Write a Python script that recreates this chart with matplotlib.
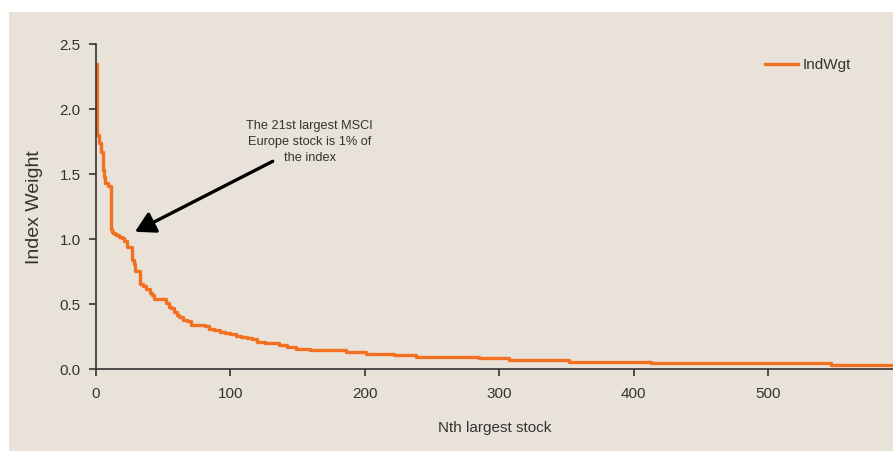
import matplotlib.pyplot as plt
from matplotlib.patches import Rectangle

# rank where the index weight steps to a new level, and that level (%)
rank_steps = [0, 1, 2, 4, 5, 6, 7, 9, 11, 12, 13, 14, 15, 17, 19, 21, 23, 27, 28, 29,
              33, 35, 37, 40, 42, 43, 52, 54, 56, 58, 60, 62, 65, 68, 71, 81, 84,
              88, 92, 96, 100, 104, 108, 112, 116, 120, 126, 136, 142, 149, 159,
              186, 201, 222, 238, 285, 307, 352, 413, 547, 593]
weight_steps = [2.35, 1.80, 1.74, 1.67, 1.53, 1.48, 1.43, 1.41, 1.08, 1.06, 1.05,
                1.04, 1.03, 1.02, 1.01, 0.99, 0.94, 0.84, 0.81, 0.76,
                0.66, 0.64, 0.62, 0.59, 0.57, 0.54, 0.51, 0.48, 0.47, 0.44, 0.42,
                0.40, 0.38, 0.37, 0.34, 0.33, 0.31, 0.30, 0.29, 0.28, 0.27, 0.26,
                0.25, 0.24, 0.23, 0.21, 0.20, 0.185, 0.17, 0.16, 0.145, 0.13,
                0.12, 0.11, 0.095, 0.085, 0.07, 0.06, 0.05, 0.035, 0.035]

x_ticks = [0, 100, 200, 300, 400, 500]
y_ticks = [0.0, 0.5, 1.0, 1.5, 2.0, 2.5]

beige = "#e8e2d9"
orange = "#f37021"
dark = "#333333"

plt.rcParams["font.family"] = ["Liberation Sans", "DejaVu Sans"]

fig = plt.figure(figsize=(8.93, 4.51), dpi=100)
fig.patch.set_facecolor("white")
fig.patches.append(Rectangle((0.0101, 0), 0.99, 0.9734, transform=fig.transFigure,
                             facecolor=beige, edgecolor="none", zorder=-1))

ax = fig.add_axes([0.1075, 0.1811, 0.8925, 0.7207])
ax.set_facecolor("none")
ax.plot(rank_steps, weight_steps, drawstyle="steps-post", color=orange,
        lw=2.4, label="IndWgt")

ax.set_xlim(0, 593)
ax.set_ylim(0, 2.5)
ax.set_xticks(x_ticks)
ax.set_yticks(y_ticks)
ax.set_yticklabels([f"{v:.1f}" for v in y_ticks])

for s in ["top", "right"]:
    ax.spines[s].set_visible(False)
for s in ["left", "bottom"]:
    ax.spines[s].set_color(dark)
    ax.spines[s].set_linewidth(1.2)

ax.tick_params(axis="both", colors=dark, labelsize=11, length=5, width=1.2)
ax.tick_params(axis="x", pad=8)
ax.tick_params(axis="y", pad=6)

ax.set_ylabel("Index Weight", fontsize=14, color=dark, labelpad=12)
ax.set_xlabel("Nth largest stock", fontsize=11, color=dark, labelpad=14)

ax.text(159, 1.745, "The 21st largest MSCI\nEurope stock is 1% of\nthe index",
        ha="center", va="center", fontsize=9.2, color=dark, linespacing=1.45)
ax.annotate("", xy=(29, 1.058), xytext=(131.5, 1.6),
            arrowprops=dict(arrowstyle="-|>,head_length=1.2,head_width=0.68",
                            mutation_scale=10, color="black", lw=2.4,
                            shrinkA=0, shrinkB=0))

leg = ax.legend(loc="upper right", bbox_to_anchor=(0.965, 1.0), frameon=False,
                fontsize=11, handlelength=2.2, handletextpad=0.3)
for t in leg.get_texts():
    t.set_color(dark)

plt.savefig("out.png", dpi=100)
